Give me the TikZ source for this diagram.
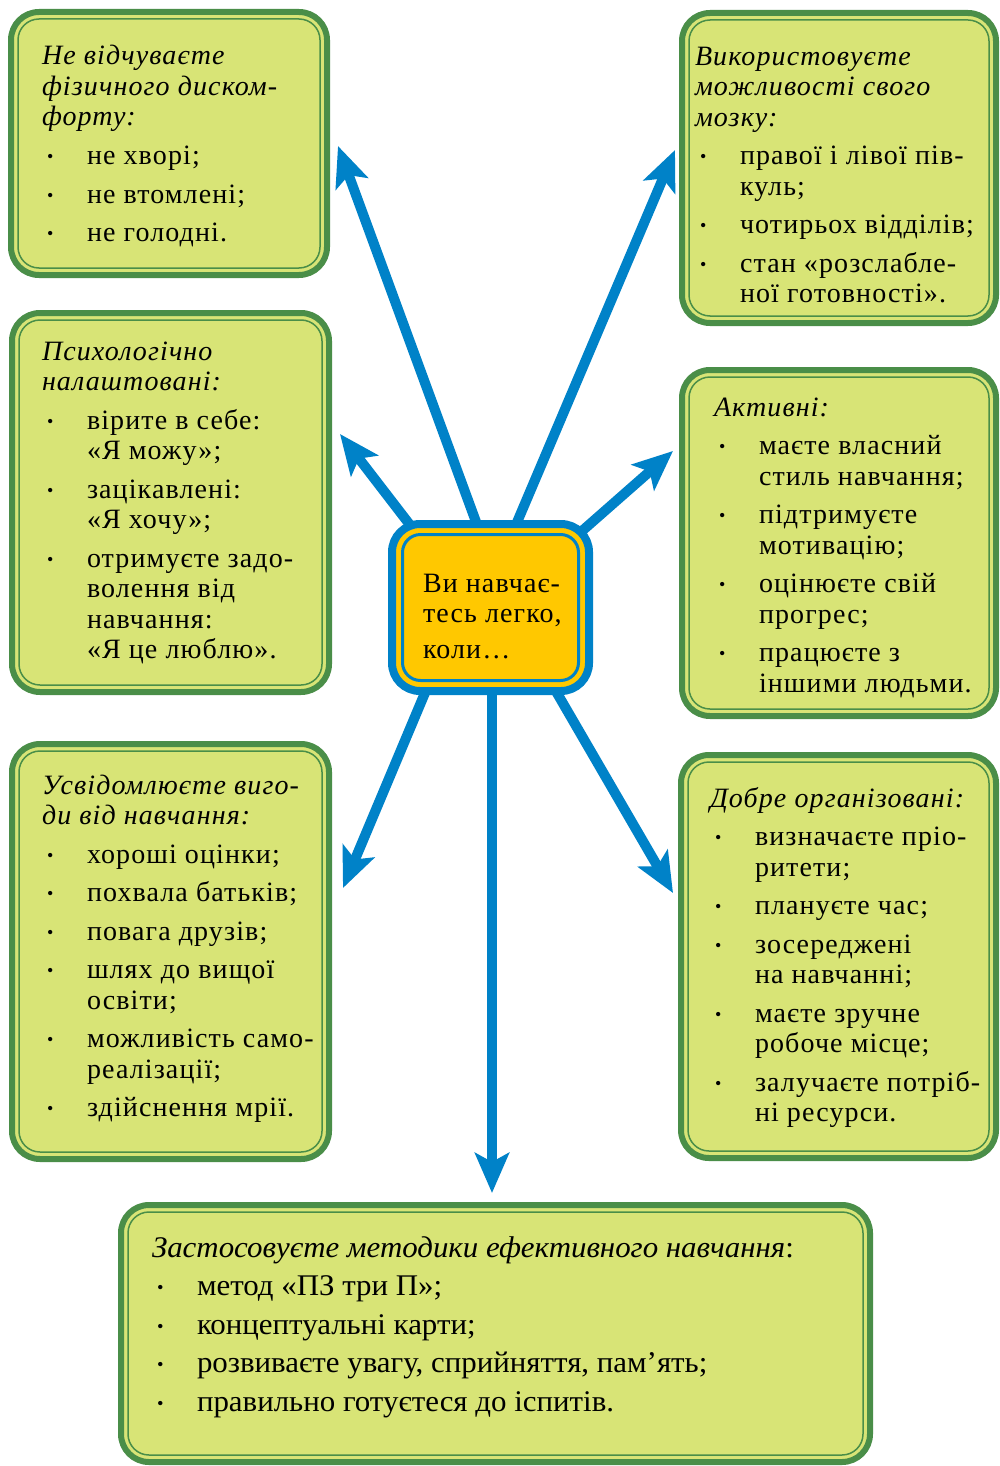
\documentclass[tikz,border=0pt]{standalone}
\usepackage{fontspec}
\setmainfont[LetterSpace=4.0]{Liberation Serif}
\newfontfamily\condfont[FakeStretch=1.03]{Liberation Serif}
\usetikzlibrary{arrows.meta,backgrounds}
\definecolor{gfill}{RGB}{216,228,118}
\definecolor{gdark}{RGB}{74,142,72}
\definecolor{bblue}{RGB}{0,130,200}
\definecolor{yfill}{RGB}{255,200,0}
\newcommand\bodyfont{\fontsize{28}{30.5}\selectfont}
\newcommand\condsize{\fontsize{30}{30.5}\selectfont}
\newcommand\fl{\rule{0pt}{24pt}}
\newcommand\bl{\hspace*{5pt}\makebox[40pt][l]{\raisebox{2pt}{\fontsize{18}{18}\selectfont •}}}
\newcommand\cn{\hspace*{45pt}}
\tikzset{
  gbox/.style={draw=gdark, line width=6pt, fill=gfill, rounded corners=28pt,
    anchor=north west, inner sep=0pt, outer sep=0pt},
  ginner/.style={draw=gdark, line width=1.5pt, rounded corners=21pt},
  cbox/.style={draw=bblue, line width=8pt, fill=yfill, rounded corners=28pt,
    inner sep=0pt, outer sep=0pt, minimum width=197pt, minimum height=167pt},
  txt/.style={anchor=north west, inner sep=0pt, outer sep=0pt, align=left, font=\bodyfont},
  arr/.style={draw=bblue, line width=10pt, -{Stealth[length=40pt,width=34pt,inset=9pt]}}
}
\begin{document}
\begin{tikzpicture}[x=1pt,y=-1pt]
\useasboundingbox (0,0) rectangle (999,1466);
% boxes
\node[gbox, minimum width=316pt, minimum height=263pt] (b1) at (11,12) {};
\node[gbox, minimum width=314pt, minimum height=310pt] (b2) at (682,13) {};
\node[gbox, minimum width=317pt, minimum height=379pt] (b3) at (12,313) {};
\node[gbox, minimum width=314pt, minimum height=346pt] (b4) at (682,370) {};
\node[gbox, minimum width=317pt, minimum height=415pt] (b5) at (12,744) {};
\node[gbox, minimum width=315pt, minimum height=403pt] (b6) at (681,755) {};
\node[gbox, minimum width=749pt, minimum height=257pt] (b7) at (121,1205) {};
\foreach \b in {b1,b2,b3,b4,b5,b6,b7}
  \draw[ginner] ([shift={(7,7)}]\b.north west) rectangle ([shift={(-7,-7)}]\b.south east);
% centre
\node[cbox] (ctr) at (490.5,607.5) {};
\draw[bblue, line width=3pt, rounded corners=18pt] ([shift={(10.5,10.5)}]ctr.north west) rectangle ([shift={(-10.5,-10.5)}]ctr.south east);
\node[txt] (ct) at (423,568) {\fl Ви навчає-\\тесь легко,\\[5pt]коли…};
% arrows
\coordinate (t1) at (338,146);
\coordinate (t2) at (675,150);
\coordinate (t3) at (340,434);
\coordinate (t4) at (673,451);
\coordinate (t5) at (343,888);
\coordinate (t6) at (492,1193);
\coordinate (t7) at (673,893);
\begin{pgfonlayer}{background}
\fill[white] (0,0) rectangle (999,1466);
\draw[arr] ([shift={(-0.5,-47.5)}]ctr.center) -- (t1);
\draw[arr] ([shift={(10.5,-47.5)}]ctr.center) -- (t2);
\draw[arr] ([shift={(-53.5,-47.5)}]ctr.center) -- (t3);
\draw[arr] ([shift={(58.5,-47.5)}]ctr.center) -- (t4);
\draw[arr] ([shift={(-47.5,42.5)}]ctr.center) -- (t5);
\draw[arr] ([shift={(1.5,42.5)}]ctr.center) -- (t6);
\draw[arr] ([shift={(41.5,42.5)}]ctr.center) -- (t7);
\end{pgfonlayer}
% texts
\node[txt] (x1) at (42,41) {\fl\textit{Не відчуваєте}\\\textit{фізичного диском-}\\\textit{форту:}\\[8pt]
\bl не хворі;\\[8pt]
\bl не втомлені;\\[8pt]
\bl не голодні.};
\node[txt] (x2) at (695,41) {\fl\textit{Використовуєте}\\\textit{можливості свого}\\\textit{мозку:}\\[8pt]
\bl правої і лівої пів-\\\cn куль;\\[8pt]
\bl чотирьох відділів;\\[8pt]
\bl стан «розслабле-\\\cn ної готовності».};
\node[txt] (x3) at (42,336) {\fl\textit{Психологічно}\\\textit{налаштовані:}\\[8pt]
\bl вірите в себе:\\\cn «Я можу»;\\[8pt]
\bl зацікавлені:\\\cn «Я хочу»;\\[8pt]
\bl отримуєте задо-\\\cn волення від\\\cn навчання:\\\cn «Я це люблю».};
\node[txt] (x4) at (714,392) {\fl\textit{Активні:}\\[8pt]
\bl маєте власний\\\cn стиль навчання;\\[8pt]
\bl підтримуєте\\\cn мотивацію;\\[8pt]
\bl оцінюєте свій\\\cn прогрес;\\[8pt]
\bl працюєте з\\\cn іншими людьми.};
\node[txt] (x5) at (42,770) {\fl\textit{Усвідомлюєте виго-}\\\textit{ди від навчання:}\\[8pt]
\bl хороші оцінки;\\[8pt]
\bl похвала батьків;\\[8pt]
\bl повага друзів;\\[8pt]
\bl шлях до вищої\\\cn освіти;\\[8pt]
\bl можливість само-\\\cn реалізації;\\[8pt]
\bl здійснення мрії.};
\node[txt] (x6) at (710,783) {\fl\textit{Добре організовані:}\\[8pt]
\bl визначаєте пріо-\\\cn ритети;\\[8pt]
\bl плануєте час;\\[8pt]
\bl зосереджені\\\cn на навчанні;\\[8pt]
\bl маєте зручне\\\cn робоче місце;\\[8pt]
\bl залучаєте потріб-\\\cn ні ресурси.};
\node[txt, font=\condsize\condfont] (x7) at (152,1233) {\fl\textit{Застосовуєте методики ефективного навчання}:\\[8pt]
\bl метод «ПЗ три П»;\\[8pt]
\bl концептуальні карти;\\[8pt]
\bl розвиваєте увагу, сприйняття, пам’ять;\\[8pt]
\bl правильно готуєтеся до іспитів.};
\end{tikzpicture}
\end{document}
